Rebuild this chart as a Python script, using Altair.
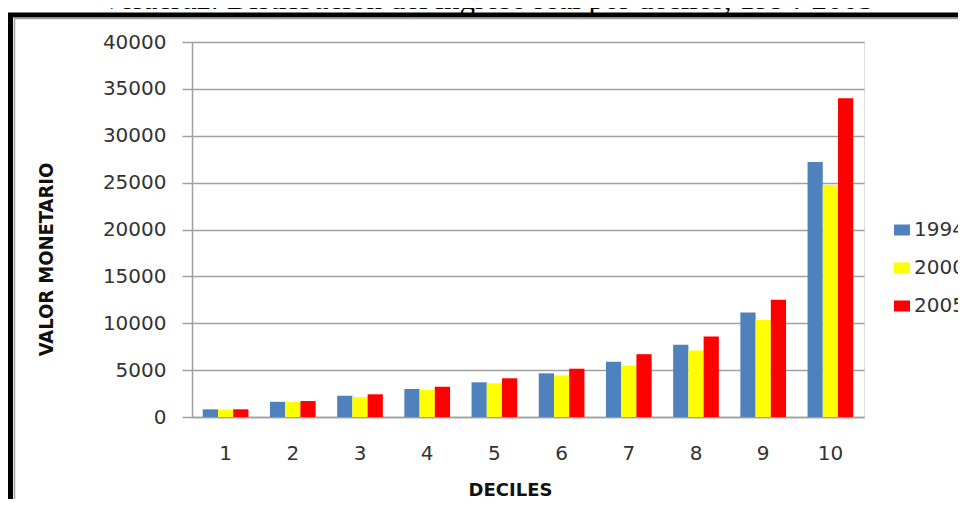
import altair as alt
import pandas as pd

deciles = [1, 2, 3, 4, 5, 6, 7, 8, 9, 10]
years = ["1994", "2000", "2005"]
y1994 = [820, 1620, 2270, 2990, 3700, 4660, 5900, 7700, 11150, 27200]
y2000 = [800, 1600, 2130, 2880, 3600, 4440, 5500, 7100, 10350, 24750]
y2005 = [820, 1700, 2420, 3230, 4130, 5150, 6700, 8600, 12500, 34000]
colors = ["#4F81BD", "#FFFF00", "#FF0000"]
title_text = "Veracruz: Distribución del ingreso real por deciles, 1994-2005"

rows = []
for yr, vals in zip(years, [y1994, y2000, y2005]):
    for d, v in zip(deciles, vals):
        rows.append({"decil": d, "anio": yr, "valor": v})
df = pd.DataFrame(rows)

GRID = "#a0a0a0"

bars = alt.Chart(df).mark_bar().encode(
    x=alt.X("decil:O",
            scale=alt.Scale(paddingInner=0.32, paddingOuter=0.16),
            axis=alt.Axis(title="DECILES", labelAngle=0, ticks=False,
                          labelFont="DejaVu Sans", labelFontSize=20,
                          labelColor="#333333", labelPadding=26,
                          domainColor=GRID, domainWidth=1.5,
                          titleFont="DejaVu Sans", titleFontWeight="bold",
                          titleFontSize=18, titleColor="#111111",
                          titleX=318, titleY=73, titleBaseline="middle",
                          titleAlign="center")),
    xOffset=alt.XOffset("anio:N", sort=years, scale=alt.Scale(paddingInner=0, paddingOuter=0)),
    y=alt.Y("valor:Q",
            scale=alt.Scale(domain=[0, 40000], nice=False),
            axis=alt.Axis(title="VALOR MONETARIO", values=list(range(0, 40001, 5000)),
                          format="d", tickSize=10, tickColor=GRID, tickWidth=1.5,
                          labelFont="DejaVu Sans", labelFontSize=20,
                          labelColor="#333333", labelPadding=16,
                          domainColor=GRID, domainWidth=1.5,
                          gridColor=GRID, gridWidth=1.5,
                          titleFont="DejaVu Sans Condensed", titleFontWeight="bold",
                          titleFontSize=20, titleColor="#111111",
                          titleX=-146, titleY=217, titleAngle=-90,
                          titleBaseline="middle", titleAlign="center")),
    color=alt.Color("anio:N", sort=years,
                    scale=alt.Scale(domain=years, range=colors),
                    legend=alt.Legend(title=None, orient="none", legendX=700, legendY=178,
                                      symbolType="M-1.45,-1H1.45V1H-1.45Z",
                                      symbolSize=121, symbolStrokeWidth=0,
                                      labelFont="DejaVu Sans", labelFontSize=20,
                                      labelColor="#333333", labelOffset=2,
                                      rowPadding=18, padding=0)),
)

title = alt.Chart(alt.Data(values=[{"t": title_text}])).mark_text(
    font="Liberation Serif", fontSize=31, align="center", baseline="alphabetic", color="#000000"
).encode(x=alt.value(295), y=alt.value(-33), text="t:N")

frame_outer = alt.Chart(alt.Data(values=[{"a": 1}])).mark_rect(
    filled=False, stroke="#000000", strokeWidth=5
).encode(x=alt.value(-181.5), x2=alt.value(2000), y=alt.value(-27), y2=alt.value(2000))

frame_inner = alt.Chart(alt.Data(values=[{"a": 1}])).mark_rect(
    filled=False, stroke="#a0a0a0", strokeWidth=1.5
).encode(x=alt.value(-177.5), x2=alt.value(2000), y=alt.value(-23.5), y2=alt.value(2000))

chart = alt.layer(bars, title, frame_outer, frame_inner).properties(
    width=672, height=375,
    autosize=alt.AutoSizeParams(type="none"),
    padding={"left": 184, "top": 34, "right": 94, "bottom": 82},
).configure_view(stroke=None).configure(background="white")

chart.save("out.html", embed_options={"renderer": "svg", "actions": False})
